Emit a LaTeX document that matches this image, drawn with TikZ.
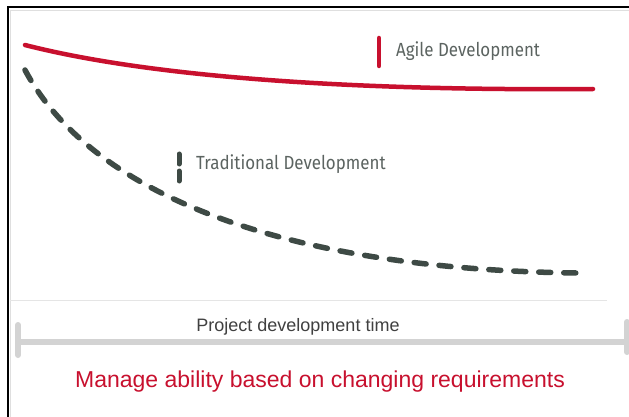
\documentclass[tikz,border=0pt]{standalone}
\usepackage{fontspec}
\setmainfont{Liberation Sans}
\newfontfamily\legendfont[FakeStretch=0.89]{Fira Sans}
\definecolor{agilered}{HTML}{C8102E}
\definecolor{tradgray}{HTML}{3E4A45}
\definecolor{legendgray}{HTML}{5C6461}
\definecolor{bargray}{HTML}{D3D3D3}
\definecolor{textgray}{HTML}{404040}
\tikzset{
  agileline/.style={draw=agilered, line width=4.5pt, line cap=round},
  tradline/.style={draw=tradgray, line width=5.5pt, line cap=round, dash pattern=on 12pt off 13pt},
  legendtext/.style={anchor=west, inner sep=0pt, text=legendgray, font=\legendfont\fontsize{19}{21}\selectfont},
  timebar/.style={draw=bargray, line width=6pt, line cap=round},
}
\begin{document}
\begin{tikzpicture}[x=1pt,y=-1pt]
\useasboundingbox (0,0) rectangle (629,417);
\fill[white] (0,0) rectangle (629,417);
% frame
\draw[black, line width=2pt] (7.5,417) -- (7.5,7.5) -- (629,7.5);
\draw[gray!25, line width=0.8pt] (10.5,417) -- (10.5,10.5) -- (629,10.5);
% baseline
\draw[gray!20, line width=1pt] (10,300) -- (607,300);
% curves
\coordinate (a0) at (25,45);
\coordinate (a1) at (593,89);
\draw[agileline] (a0) .. controls (150,77) and (350,91) .. (a1);
\coordinate (t0) at (25,70);
\coordinate (t1) at (580,273);
\draw[tradline] (t0) .. controls (90,192) and (280,270) .. (t1);
% legends
\coordinate (ab0) at (379,38);
\coordinate (ab1) at (379,66);
\draw[agileline] (ab0) -- (ab1);
\node[legendtext] (agile) at (396,51) {Agile Development};
\coordinate (tb0) at (179,154);
\coordinate (tb1) at (179,164);
\coordinate (tb2) at (179,171);
\coordinate (tb3) at (179,181);
\draw[draw=tradgray, line width=5pt, line cap=round] (tb0) -- (tb1);
\draw[draw=tradgray, line width=5pt, line cap=round] (tb2) -- (tb3);
\node[legendtext] (trad) at (196,164) {Traditional Development};
% time bar
\coordinate (bl) at (18,342);
\coordinate (br) at (627,342);
\draw[timebar] (bl) -- (br);
\draw[timebar] (18,325) -- (18,355);
\draw[timebar] (627,322) -- (627,352);
\node[text=textgray, font=\fontsize{18}{20}\selectfont, inner sep=0pt] (time) at (298,326.5) {Project development time};
\node[text=agilered, font=\fontsize{23}{26}\selectfont, inner sep=0pt] (manage) at (320,381.5) {Manage ability based on changing requirements};
\end{tikzpicture}
\end{document}
